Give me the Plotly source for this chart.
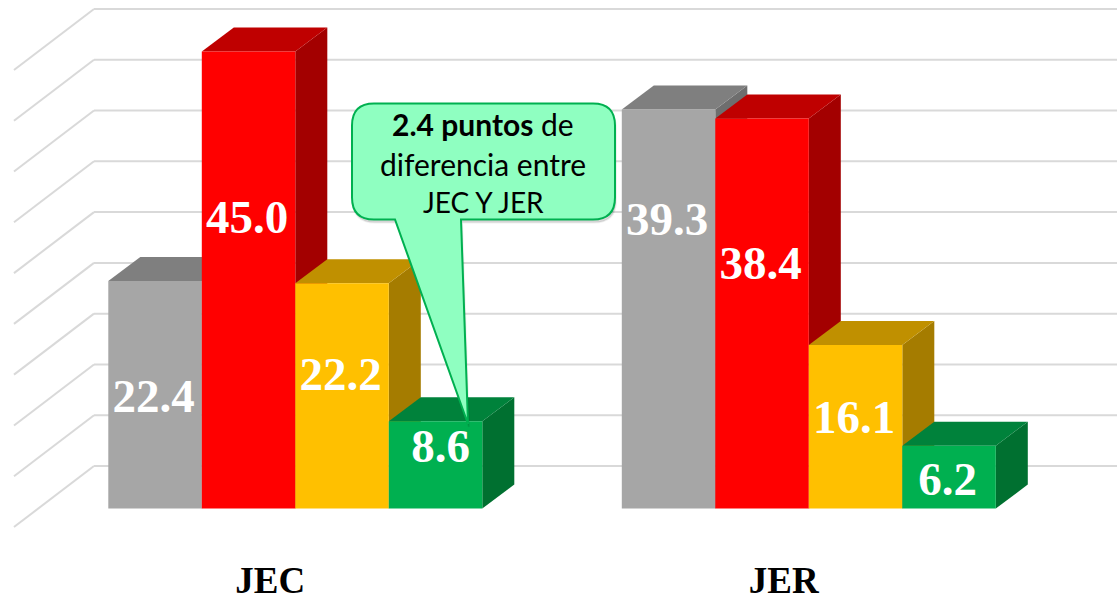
import plotly.graph_objects as go

# values
categories = ['JEC', 'JER']
gray_values = [22.4, 39.3]
red_values = [45.0, 38.4]
gold_values = [22.2, 16.1]
green_values = [8.6, 6.2]
grid_ticks = [0, 5, 10, 15, 20, 25, 30, 35, 40, 45]

callout_lines = ['<b>2.4 puntos</b> de', 'diferencia entre', 'JEC Y JER']

# height on the value axis where each number sits inside its bar
gray_label_y = [10.7, 28.1]
red_label_y = [28.3, 23.8]
gold_label_y = [12.8, 8.6]
green_label_y = [5.7, 2.5]

# (name, values, label height, front, top, side)
series = [
    ('Gris', gray_values, gray_label_y, '#A6A6A6', '#7F7F7F', '#6E6E6E'),
    ('Rojo', red_values, red_label_y, '#FF0000', '#BF0000', '#A30000'),
    ('Amarillo', gold_values, gold_label_y, '#FFC000', '#C09000', '#A57C00'),
    ('Verde', green_values, green_label_y, '#00B050', '#00823B', '#007030'),
]

WIDTH, HEIGHT = 1117, 603
PLOT_BOTTOM = 540  # px, x axis line position

# pixel scale of the two axes
X_ORIGIN, X_UNIT = 295.3, 513.5
Y_ORIGIN, Y_UNIT = 508.6, 10.156


def to_x(px):
    return (px - X_ORIGIN) / X_UNIT


def to_y(py):
    return (Y_ORIGIN - py) / Y_UNIT


BAR_W = 93.5 / X_UNIT
DEPTH_X, DEPTH_Y = 32 / X_UNIT, 24 / Y_UNIT
WALL_X, WALL_Y = 94, 42.6 / Y_UNIT  # back wall, relative to the bar base
FLOOR_X, FLOOR_Y = 14, -18.4 / Y_UNIT  # front edge of the floor

GRID = '#D9D9D9'
shapes = []

# back wall and left wall gridlines
for tick in grid_ticks:
    shapes.append(dict(type='line', layer='below', xref='x', yref='y',
                       x0=to_x(WALL_X), x1=to_x(WIDTH),
                       y0=tick + WALL_Y, y1=tick + WALL_Y,
                       line=dict(color=GRID, width=2)))
    shapes.append(dict(type='line', layer='below', xref='x', yref='y',
                       x0=to_x(FLOOR_X), x1=to_x(WALL_X),
                       y0=tick + FLOOR_Y, y1=tick + WALL_Y,
                       line=dict(color=GRID, width=2)))


def face(points, color):
    path = 'M' + ' L'.join(f'{x},{y}' for x, y in points) + ' Z'
    return dict(type='path', layer='below', xref='x', yref='y', path=path,
                fillcolor=color, line=dict(width=0))


# side and top of the bars, left to right so each one hides the previous
for c in range(len(categories)):
    for i, (name, values, _, front, top, side) in enumerate(series):
        x0 = c + (i - 2) * BAR_W
        x1 = x0 + BAR_W
        v = values[c]
        shapes.append(face([(x1, 0), (x1 + DEPTH_X, DEPTH_Y),
                            (x1 + DEPTH_X, v + DEPTH_Y), (x1, v)], side))
        shapes.append(face([(x0, v), (x0 + DEPTH_X, v + DEPTH_Y),
                            (x1 + DEPTH_X, v + DEPTH_Y), (x1, v)], top))


def callout_path(dx=0, dy=0):
    l, r, t, b, rad = 352 + dx, 615 + dx, 103.5 + dy, 219.5 + dy, 22
    pts = [
        f'M{to_x(l + rad)},{to_y(t)}',
        f'L{to_x(r - rad)},{to_y(t)}',
        f'Q{to_x(r)},{to_y(t)} {to_x(r)},{to_y(t + rad)}',
        f'L{to_x(r)},{to_y(b - rad)}',
        f'Q{to_x(r)},{to_y(b)} {to_x(r - rad)},{to_y(b)}',
        f'L{to_x(461 + dx)},{to_y(b)}',
        f'L{to_x(468 + dx)},{to_y(424 + dy)}',
        f'L{to_x(395 + dx)},{to_y(b)}',
        f'L{to_x(l + rad)},{to_y(b)}',
        f'Q{to_x(l)},{to_y(b)} {to_x(l)},{to_y(b - rad)}',
        f'L{to_x(l)},{to_y(t + rad)}',
        f'Q{to_x(l)},{to_y(t)} {to_x(l + rad)},{to_y(t)}',
        'Z',
    ]
    return ' '.join(pts)


# soft shadow, then the callout
shapes.append(dict(type='path', layer='above', xref='x', yref='y', path=callout_path(1, 3),
                   fillcolor='rgba(0,0,0,0.14)', line=dict(color='rgba(0,0,0,0.06)', width=2)))
shapes.append(dict(type='path', layer='above', xref='x', yref='y', path=callout_path(),
                   fillcolor='#8FFFC1', line=dict(color='#00B050', width=2)))

fig = go.Figure()

for i, (name, values, _, front, _top, _side) in enumerate(series):
    fig.add_trace(go.Bar(x=list(range(len(categories))), y=values, name=name,
                         marker=dict(color=front, line=dict(width=0)),
                         hoverinfo='y'))

# numbers in white
for i, (name, values, label_y, *_rest) in enumerate(series):
    nudge = 6.5 if name == 'Verde' else 0  # the 8.6 sits right of centre
    fig.add_trace(go.Scatter(
        x=[c + (i - 1.5) * BAR_W + (-1.5 + (nudge if c == 0 else 0)) / X_UNIT
           for c in range(len(categories))],
        y=label_y,
        mode='text',
        text=[f'{v:.1f}' for v in values],
        textposition='middle center',
        textfont=dict(family='Liberation Serif', size=47, color='white', weight='bold'),
        hoverinfo='skip',
    ))

annotations = []
for line, py, size in zip(callout_lines, [124, 164, 202], [30, 30, 28]):
    annotations.append(dict(x=to_x(483), y=to_y(py), xref='x', yref='y', text=line,
                            showarrow=False, xanchor='center', yanchor='middle',
                            font=dict(family='Lato', size=size, color='black')))

fig.update_layout(
    width=WIDTH,
    height=HEIGHT,
    margin=dict(l=0, r=0, t=0, b=HEIGHT - PLOT_BOTTOM, pad=0, autoexpand=False),
    paper_bgcolor='white',
    plot_bgcolor='white',
    showlegend=False,
    barmode='group',
    bargap=1 - 4 * BAR_W,
    bargroupgap=0,
    shapes=shapes,
    annotations=annotations,
    xaxis=dict(
        range=[to_x(0), to_x(WIDTH)],
        tickmode='array',
        tickvals=[c - 25 / X_UNIT for c in range(len(categories))],
        ticktext=categories,
        tickfont=dict(family='Liberation Serif', size=37, color='black', weight='bold'),
        ticks='',
        ticklabelstandoff=15,
        automargin=False,
        showgrid=False,
        zeroline=False,
        showline=False,
    ),
    yaxis=dict(
        range=[to_y(PLOT_BOTTOM), to_y(0)],
        showgrid=False,
        zeroline=False,
        showline=False,
        showticklabels=False,
    ),
)

fig.write_html("out.html", config={'displayModeBar': False},
               post_script="document.body.style.margin='0';document.documentElement.style.overflow='hidden';")
